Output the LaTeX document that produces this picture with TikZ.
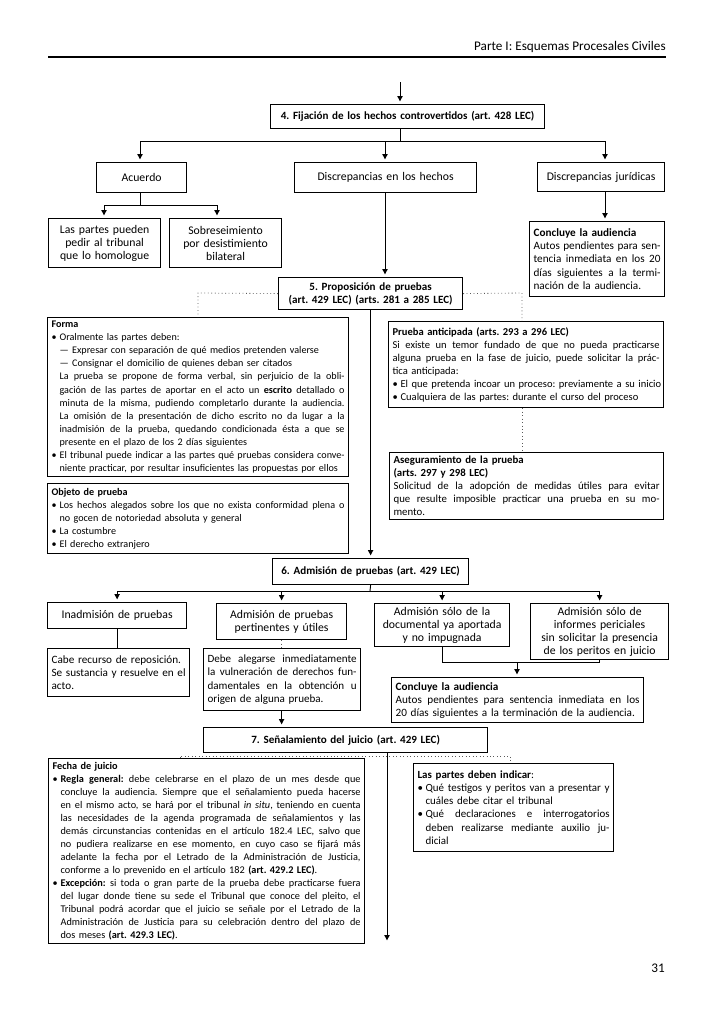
\documentclass[tikz,border=0pt]{standalone}
\usepackage{fontspec}
\setmainfont{Carlito}
\usetikzlibrary{arrows.meta,calc}
\newlength\bxlen
\newcommand\xsp{\spaceskip=\fontdimen2\font plus 1fil minus 0.45\fontdimen2\font\xspaceskip=\spaceskip}
\newcommand\xJL[1]{\leavevmode\hbox to \bxlen{\xsp #1}}
\newcommand\xIJ[1]{\leavevmode\hspace*{6pt}\hbox to \dimexpr\bxlen-6pt\relax{\xsp #1}}
\newcommand\xIL[1]{\leavevmode\hspace*{6pt}\mbox{#1}}
\newcommand\xBL[1]{\leavevmode\makebox[6pt][l]{•}\mbox{#1}}
\newcommand\xBJ[1]{\leavevmode\makebox[6pt][l]{•}\hbox to \dimexpr\bxlen-6pt\relax{\xsp #1}}
\newcommand\bx[7]{%
  \pgfmathsetmacro\bxw{0.75*(#5-#3)-6}%
  \pgfmathsetmacro\bxh{0.75*(#6-#4)}%
  \setlength\bxlen{\bxw pt}%
  \node[#2, anchor=north west, text width=\bxw pt, minimum height=\bxh pt] (#1) at (#3,#4) {#7};}
\tikzset{
  box/.style={draw, line width=0.9pt, inner xsep=3pt, inner ysep=1pt,
    font=\fontsize{8.8}{9.8}\selectfont, align=center,
    execute at begin node={\parindent=0pt\frenchspacing}},
  tbox/.style={box, align=left, font=\fontsize{#1}{9.8}\selectfont},
  tbox/.default=7.6,
  hbox/.style={box, font=\bfseries\fontsize{8.3}{9.8}\selectfont},
  conn/.style={line width=0.7pt},
  arr/.style={conn, -{Triangle[length=4pt,width=4pt]}, shorten >=2pt},
  dot/.style={line width=0.6pt, dotted, black!65},
}
\begin{document}
\frenchspacing
\begin{tikzpicture}[x=0.75pt,y=-0.75pt]
\useasboundingbox (0,0) rectangle (713,1011);
\fill[white] (0,0) rectangle (713,1011);
% header
\node[font=\fontsize{9.9}{11}\selectfont, anchor=base east, inner sep=0pt] (hdr) at (666,50) {Parte I: Esquemas Procesales Civiles};
\coordinate (rl) at (48,57);
\draw[line width=0.8pt] (rl) -- (rl -| hdr.east);
\node[font=\fontsize{9.9}{11}\selectfont] (pg) at (658,968) {31};

% boxes
\bx{b4}{hbox}{270}{104}{544}{128}{4. Fijación de los hechos controvertidos (art. 428 LEC)}
\bx{acu}{box}{96}{162}{186}{192}{Acuerdo}
\bx{disc}{box}{294}{162}{476}{192}{Discrepancias en los hechos}
\bx{jur}{box}{537}{162}{664}{191}{Discrepancias jurídicas}
\bx{lp}{box}{48}{218}{160}{267}{Las partes pueden\\pedir al tribunal\\que lo homologue}
\bx{sob}{box}{169}{218}{281}{267}{Sobreseimiento\\por desistimiento\\bilateral}
\bx{con1}{tbox=8.4}{529}{221}{664}{296}{\textbf{Concluye la audiencia}\\
\xJL{Autos pendientes para sen-}\\
\xJL{tencia inmediata en los 20}\\
\xJL{días siguientes a la termi-}\\
nación de la audiencia.}
\bx{b5}{hbox}{278}{277}{462}{309}{5. Proposición de pruebas\\(art. 429 LEC) (arts. 281 a 285 LEC)}
\bx{forma}{tbox}{47}{317}{348}{476}{\textbf{Forma}\\
\xBL{Oralmente las partes deben:}\\
\xIL{— Expresar con separación de qué medios pretenden valerse}\\
\xIL{— Consignar el domicilio de quienes deban ser citados}\\
\xIJ{La prueba se propone de forma verbal, sin perjuicio de la obli-}\\
\xIJ{gación de las partes de aportar en el acto un \textbf{escrito} detallado o}\\
\xIJ{minuta de la misma, pudiendo completarlo durante la audiencia.}\\
\xIJ{La omisión de la presentación de dicho escrito no da lugar a la}\\
\xIJ{inadmisión de la prueba, quedando condicionada ésta a que se}\\
\xIL{presente en el plazo de los 2 días siguientes}\\
\xBJ{El tribunal puede indicar a las partes qué pruebas considera conve-}\\
\xIL{niente practicar, por resultar insuficientes las propuestas por ellos}}
\bx{obj}{tbox}{47}{483}{348}{553}{\textbf{Objeto de prueba}\\
\xBJ{Los hechos alegados sobre los que no exista conformidad plena o}\\
\xIL{no gocen de notoriedad absoluta y general}\\
\xBL{La costumbre}\\
\xBL{El derecho extranjero}}
\bx{pa}{tbox=7.9}{388}{321}{663}{407}{\textbf{Prueba anticipada (arts. 293 a 296 LEC)}\\
\xJL{Si existe un temor fundado de que no pueda practicarse}\\
\xJL{alguna prueba en la fase de juicio, puede solicitar la prác-}\\
tica anticipada:\\
\xBL{El que pretenda incoar un proceso: previamente a su inicio}\\
\xBL{Cualquiera de las partes: durante el curso del proceso}}
\bx{ase}{tbox=8.1}{389}{452}{663}{519}{\textbf{Aseguramiento de la prueba}\\
\textbf{(arts. 297 y 298 LEC)}\\
\xJL{Solicitud de la adopción de medidas útiles para evitar}\\
\xJL{que resulte imposible practicar una prueba en su mo-}\\
mento.}
\bx{b6}{hbox}{272}{558}{468}{584}{6. Admisión de pruebas (art. 429 LEC)}
\bx{inad}{box}{47}{602}{186}{628}{Inadmisión de pruebas}
\bx{pert}{box}{216}{603}{346}{639}{Admisión de pruebas\\pertinentes y útiles}
\bx{doc}{box}{374}{603}{509}{646}{Admisión sólo de la\\documental ya aportada\\y no impugnada}
\bx{inf}{box}{530}{603}{668}{659}{Admisión sólo de\\informes periciales\\sin solicitar la presencia\\de los peritos en juicio}
\bx{cabe}{tbox=8.4}{47}{648}{189}{696}{Cabe recurso de reposición.\\
\xJL{Se sustancia y resuelve en el}\\
acto.}
\bx{debe}{tbox=8.3}{203}{648}{360}{710}{\xJL{Debe alegarse inmediatamente}\\
\xJL{la vulneración de derechos fun-}\\
\xJL{damentales en la obtención u}\\
origen de alguna prueba.}
\bx{con2}{tbox=8.4}{391}{677}{643}{722}{\textbf{Concluye la audiencia}\\
\xJL{Autos pendientes para sentencia inmediata en los}\\
20 días siguientes a la terminación de la audiencia.}
\bx{b7}{hbox}{203}{727}{487}{752}{7. Señalamiento del juicio (art. 429 LEC)}
\bx{fecha}{tbox=7.7}{48}{758}{364}{943}{\textbf{Fecha de juicio}\\
\xBJ{\textbf{Regla general:} debe celebrarse en el plazo de un mes desde que}\\
\xIJ{concluye la audiencia. Siempre que el señalamiento pueda hacerse}\\
\xIJ{en el mismo acto, se hará por el tribunal \textit{in situ}, teniendo en cuenta}\\
\xIJ{las necesidades de la agenda programada de señalamientos y las}\\
\xIJ{demás circunstancias contenidas en el artículo 182.4 LEC, salvo que}\\
\xIJ{no pudiera realizarse en ese momento, en cuyo caso se fijará más}\\
\xIJ{adelante la fecha por el Letrado de la Administración de Justicia,}\\
\xIL{conforme a lo prevenido en el artículo 182 \textbf{(art. 429.2 LEC)}.}\\
\xBJ{\textbf{Excepción:} si toda o gran parte de la prueba debe practicarse fuera}\\
\xIJ{del lugar donde tiene su sede el Tribunal que conoce del pleito, el}\\
\xIJ{Tribunal podrá acordar que el juicio se señale por el Letrado de la}\\
\xIJ{Administración de Justicia para su celebración dentro del plazo de}\\
\xIL{dos meses \textbf{(art. 429.3 LEC)}.}}
\bx{lpd}{tbox=8.2}{413}{763}{613}{851}{\textbf{Las partes deben indicar}:\\
\xBJ{Qué testigos y peritos van a presentar y}\\
\xIL{cuáles debe citar el tribunal}\\
\xBJ{Qué declaraciones e interrogatorios}\\
\xIJ{deben realizarse mediante auxilio ju-}\\
\xIL{dicial}}

% connectors: level 4
\coordinate (t0) at (400,82);
\draw[arr] (t0) -- (t0 |- b4.north);
\coordinate (h1) at (400,141);
\coordinate (h1a) at (140,141);
\coordinate (h1b) at (385,141);
\coordinate (h1c) at (605,141);
\draw[conn] (t0 |- b4.south) -- (h1);
\draw[conn] (h1a) -- (h1c);
\draw[arr] (h1a) -- (h1a |- acu.north);
\draw[arr] (h1b) -- (h1b |- disc.north);
\draw[arr] (h1c) -- (h1c |- jur.north);
% acuerdo
\coordinate (h2) at (140,205);
\coordinate (h2a) at (104,205);
\coordinate (h2b) at (217,205);
\draw[conn] (h2 |- acu.south) -- (h2);
\draw[conn] (h2a) -- (h2b);
\draw[arr] (h2a) -- (h2a |- lp.north);
\draw[arr] (h2b) -- (h2b |- sob.north);
% juridicas
\draw[arr] (h1c |- jur.south) -- (h1c |- con1.north);
% hechos
\draw[arr] (h1b |- disc.south) -- (h1b |- b5.north);
% proposicion
\coordinate (d1) at (198,293);
\coordinate (d2) at (522,293);
\draw[dot] (b5.west) -- (d1) -- (d1 |- forma.north);
\draw[dot] (b5.east) -- (d2) -- (d2 |- pa.north);
\draw[dot] (d2 |- pa.south) -- (d2 |- ase.north);
\draw[arr] (b5.south) -- (b6.north);
% admision
\coordinate (h3) at (370,591);
\draw[conn] (b6.south) -- (h3);
\draw[conn] (inad.north |- h3) -- (inf.north |- h3);
\draw[arr] (inad.north |- h3) -- (inad.north);
\draw[arr] (pert.north |- h3) -- (pert.north);
\draw[arr] (doc.north |- h3) -- (doc.north);
\draw[arr] (inf.north |- h3) -- (inf.north);
\draw[conn] (inad.south) -- (inad.south |- cabe.north);
\draw[dot] (pert.south) -- (pert.south |- debe.north);
\draw[arr] (pert.south |- debe.south) -- (pert.south |- b7.north);
\coordinate (h4) at (517,662);
\draw[conn] (doc.south) -- (doc.south |- h4) -- (inf.south |- h4) -- (inf.south);
\draw[arr] (h4) -- (h4 |- con2.north);
% senalamiento
\coordinate (e7) at (387,943);
\draw[arr] (e7 |- b7.south) -- (e7);
\coordinate (d3) at (180,756);
\coordinate (d4) at (510,756);
\draw[dot] (d3 |- fecha.north) -- (d3) -- (d4) -- (d4 |- lpd.north);
\end{tikzpicture}
\end{document}
